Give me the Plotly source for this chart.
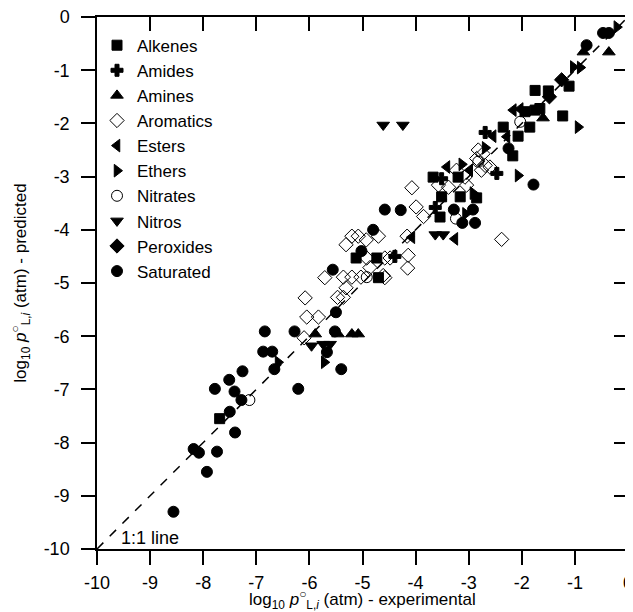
import plotly.graph_objects as go

# ---- data (x = log10 p experimental, y = log10 p predicted) ----
alkenes_x = [-1.75, -1.50, -1.11, -1.94, -1.75, -1.66, -1.23, -1.85, -2.35, -2.07, -2.17,
             -3.67, -3.20, -3.51, -3.16, -2.85, -3.54, -5.12, -4.73, -4.70, -7.69]
alkenes_y = [-1.38, -1.39, -1.30, -1.78, -1.75, -1.72, -1.86, -2.07, -2.07, -2.24, -2.61,
             -3.01, -3.01, -3.38, -3.38, -3.40, -3.76, -4.53, -4.53, -4.90, -7.55]

amides_x = [-2.69, -2.47, -3.51, -3.63, -4.39]
amides_y = [-2.17, -2.94, -3.04, -3.58, -4.50]

amines_x = [-0.84, -0.36, -1.60, -5.89, -5.46, -5.20, -5.08]
amines_y = [-0.66, -0.66, -1.90, -5.96, -5.96, -5.96, -5.96]

aromatics_x = [-2.82, -2.73, -2.85, -2.69, -2.60, -2.76, -3.23, -3.07, -3.57, -3.38, -3.04,
               -4.07, -3.99, -3.85, -4.16, -2.38, -5.31, -5.20, -5.08, -4.93, -4.70, -4.92,
               -4.58, -4.48, -4.14, -4.15, -4.86, -5.71, -5.36, -5.20, -5.03, -4.58, -5.31,
               -5.47, -5.36, -6.08, -6.05, -5.83, -6.10, -4.61]
aromatics_y = [-2.50, -2.57, -2.66, -2.79, -2.82, -2.88, -2.88, -3.01, -3.16, -3.20, -3.16,
               -3.21, -3.57, -3.75, -4.12, -4.18, -4.28, -4.12, -4.12, -4.19, -4.12, -4.53,
               -4.53, -4.53, -4.48, -4.72, -4.71, -4.90, -4.89, -4.89, -4.89, -4.90, -5.09,
               -5.27, -5.27, -5.28, -5.64, -5.64, -6.03, -4.86]

esters_x = [-2.16, -2.03, -2.54, -2.28, -3.41, -2.98, -4.07, -3.26]
esters_y = [-1.75, -1.73, -2.24, -2.25, -2.82, -2.88, -4.14, -4.17]

ethers_x = [-0.21, -1.03, -0.90, -0.94, -2.69, -3.13, -2.92, -2.07, -5.72, -6.59, -3.06]
ethers_y = [-0.19, -0.94, -0.95, -2.07, -2.46, -2.77, -3.31, -2.98, -6.49, -6.49, -3.70]

nitrates_x = [-2.03, -2.82, -3.24, -4.92, -7.13]
nitrates_y = [-1.97, -2.72, -3.79, -4.89, -7.20]

nitros_x = [-4.61, -4.24, -3.63, -3.48, -5.96, -5.74, -5.61]
nitros_y = [-2.03, -2.03, -4.09, -4.09, -6.18, -6.15, -6.15]

peroxides_x = [-1.25, -1.48]
peroxides_y = [-1.18, -1.50]

saturated_x = [-0.47, -0.36, -0.78, -2.25, -1.78, -4.58, -4.28, -3.28, -2.92, -3.12, -2.88,
               -4.80, -5.02, -5.56, -5.50, -6.84, -6.28, -5.52, -5.67, -5.40, -6.87, -6.70,
               -6.66, -7.26, -7.51, -7.78, -7.41, -6.21, -7.28, -7.50, -7.40, -8.18, -8.08,
               -7.74, -7.93, -8.56]
saturated_y = [-0.30, -0.30, -0.53, -2.47, -3.15, -3.62, -3.63, -3.62, -3.62, -3.87, -3.87,
               -4.00, -4.40, -4.75, -5.55, -5.91, -5.91, -5.91, -6.30, -6.62, -6.29, -6.29,
               -6.62, -6.66, -6.82, -6.99, -7.04, -6.99, -7.20, -7.42, -7.81, -8.12, -8.19,
               -8.17, -8.55, -9.30]

line_x = [-10, 0]
line_y = [-10, 0]

tick_vals = list(range(-10, 1))
tick_text = ["-10", "-9", "-8", "-7", "-6", "-5", "-4", "-3", "-2", "-1", "0"]

x_title = "log<sub>10</sub> <i>p</i><sup>○</sup><sub>L,<i>i</i></sub> (atm) - experimental"
y_title = "log<sub>10</sub> <i>p</i><sup>○</sup><sub>L,<i>i</i></sub> (atm) - predicted"

series = [
    ("Alkenes", alkenes_x, alkenes_y, "square", 10),
    ("Amides", amides_x, amides_y, "cross", 10),
    ("Amines", amines_x, amines_y, "triangle-up", 11),
    ("Aromatics", aromatics_x, aromatics_y, "diamond-open", 11),
    ("Esters", esters_x, esters_y, "triangle-left", 11),
    ("Ethers", ethers_x, ethers_y, "triangle-right", 11),
    ("Nitrates", nitrates_x, nitrates_y, "circle-open", 11),
    ("Nitros", nitros_x, nitros_y, "triangle-down", 11),
    ("Peroxides", peroxides_x, peroxides_y, "diamond", 11),
    ("Saturated", saturated_x, saturated_y, "circle", 11),
]

FONT = "Liberation Sans, Arial, sans-serif"

fig = go.Figure()
fig.add_trace(go.Scatter(x=line_x, y=line_y, mode="lines",
                         line=dict(color="black", width=1.5, dash="dash"),
                         showlegend=False, hoverinfo="skip"))
for name, xs, ys, sym, sz in series:
    fig.add_trace(go.Scatter(
        x=xs, y=ys, mode="markers", name=name,
        marker=dict(symbol=sym, size=sz, color="black",
                    line=dict(color="black", width=1)),
    ))
# hidden trace so the top/right tick axes are drawn
fig.add_trace(go.Scatter(x=[-20], y=[-20], xaxis="x2", yaxis="y2", mode="markers",
                         marker=dict(opacity=0), showlegend=False, hoverinfo="skip"))

axis_common = dict(range=[-10, 0], tickvals=tick_vals, ticktext=tick_text,
                   showgrid=False, zeroline=False, automargin=False,
                   ticklabeloverflow="allow",
                   showline=True, linecolor="black", linewidth=1.5,
                   ticklen=14, tickwidth=1.5, tickcolor="black",
                   tickfont=dict(family=FONT, size=18, color="black"))

# page body has an 8px default margin, so margins are offset accordingly
fig.update_layout(
    width=633, height=612,
    margin=dict(l=89, r=13, t=9, b=71, autoexpand=False),
    paper_bgcolor="white", plot_bgcolor="white",
    font=dict(family=FONT, size=18, color="black"),
    xaxis=dict(**axis_common, ticks="outside", mirror=True, ticklabelstandoff=3),
    yaxis=dict(**axis_common, ticks="outside", mirror=True, ticklabelstandoff=8,
               title=dict(text=y_title, font=dict(family=FONT, size=17), standoff=14)),
    xaxis2=dict(**axis_common, ticks="inside", overlaying="x", side="top",
                anchor="y", showticklabels=False),
    yaxis2=dict(**axis_common, ticks="inside", overlaying="y", side="right",
                anchor="x", showticklabels=False),
    legend=dict(x=0.0, y=0.98, xanchor="left", yanchor="top",
                bgcolor="rgba(0,0,0,0)", font=dict(family=FONT, size=17),
                tracegroupgap=0),
    showlegend=True,
    annotations=[
        dict(x=-9.58, y=-9.8, xref="x", yref="y", text="1:1 line",
             showarrow=False, xanchor="left", yanchor="middle",
             font=dict(family=FONT, size=18, color="black")),
        dict(x=0.5, y=-0.067, xref="paper", yref="paper", text=x_title,
             showarrow=False, xanchor="center", yanchor="top",
             font=dict(family=FONT, size=17, color="black")),
    ],
)

fig.write_html("out.html")
